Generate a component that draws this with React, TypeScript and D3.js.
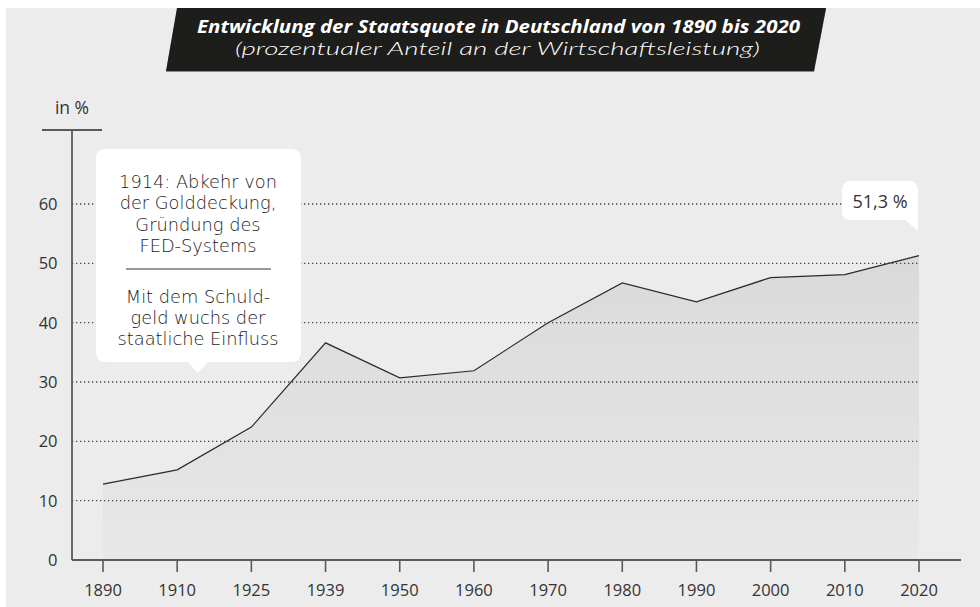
import React from "react";
import * as d3 from "d3";

const years = ["1890", "1910", "1925", "1939", "1950", "1960", "1970", "1980", "1990", "2000", "2010", "2020"];
const values = [12.8, 15.2, 22.4, 36.6, 30.7, 31.9, 40.0, 46.7, 43.5, 47.6, 48.1, 51.3];
const yTicks = [0, 10, 20, 30, 40, 50, 60];
const titleText = "Entwicklung der Staatsquote in Deutschland von 1890 bis 2020";
const subtitleText = "(prozentualer Anteil an der Wirtschaftsleistung)";
const noteTop = ["1914: Abkehr von", "der Golddeckung,", "Gründung des", "FED-Systems"];
const noteBottom = ["Mit dem Schuld-", "geld wuchs der", "staatliche Einfluss"];
const lastLabel = "51,3 %";

const FONT = "'Open Sans', Lato, sans-serif";
const NOTE_FONT = "'DejaVu Sans', 'Open Sans', sans-serif";

export default function App() {
  const x = d3.scalePoint<string>().domain(years).range([103, 919]).padding(0);
  const y = d3.scaleLinear().domain([0, 60]).range([560, 204]);
  const data = years.map((yr, i) => ({ yr, v: values[i] }));
  const line = d3.line<{ yr: string; v: number }>().x(d => x(d.yr)!).y(d => y(d.v));
  const area = d3.area<{ yr: string; v: number }>().x(d => x(d.yr)!).y0(y(0)).y1(d => y(d.v));

  // left note box
  const bx = 96, by = 149, bw = 205, bh = 213, r = 10;
  const tailX = 198;
  const boxPath =
    `M${bx + r},${by} H${bx + bw - r} Q${bx + bw},${by} ${bx + bw},${by + r} V${by + bh - r} Q${bx + bw},${by + bh} ${bx + bw - r},${by + bh}` +
    ` H${tailX + 10} L${tailX},${by + bh + 11} L${tailX - 10},${by + bh} H${bx + r} Q${bx},${by + bh} ${bx},${by + bh - r} V${by + r} Q${bx},${by} ${bx + r},${by} Z`;

  // right value label
  const lx = 842, ly = 181, lw = 76, lh = 39, lr = 9;
  const lastX = x(years[years.length - 1])!;
  const labPath =
    `M${lx + lr},${ly} H${lx + lw - lr} Q${lx + lw},${ly} ${lx + lw},${ly + lr} V${ly + lh + 11} L${lx + lw - 13},${ly + lh}` +
    ` H${lx + lr} Q${lx},${ly + lh} ${lx},${ly + lh - lr} V${ly + lr} Q${lx},${ly} ${lx + lr},${ly} Z`;

  return (
    <svg width={980} height={607} style={{ position: "absolute", left: 0, top: 0, fontFamily: FONT }}>
      <defs>
        <linearGradient id="areaGrad" gradientUnits="userSpaceOnUse" x1="0" y1="250" x2="0" y2="560">
          <stop offset="0" stopColor="#d9d9d9" />
          <stop offset="1" stopColor="#e8e8e8" />
        </linearGradient>
      </defs>
      <rect x={6} y={8} width={974} height={599} fill="#ececec" />

      {/* title banner */}
      <polygon points="166,72 814,72 826,9 177,9" fill="#8a8a8a" />
      <polygon points="177,8 826,8 814,71 166,71" fill="#1d1d1b" />
      <text x={498.5} y={33} textAnchor="middle" fill="#ffffff" fontSize={18} fontWeight={700} fontStyle="italic"
        textLength={603} lengthAdjust="spacingAndGlyphs">
        {titleText}
      </text>
      <text x={497.5} y={55} textAnchor="middle" fill="#ffffff" fontSize={18.5} fontWeight={300} fontStyle="italic"
        fontFamily="Lato, 'Open Sans', sans-serif" textLength={525} lengthAdjust="spacingAndGlyphs">
        {subtitleText}
      </text>

      {/* area */}
      <path d={area(data)!} fill="url(#areaGrad)" />

      {/* gridlines */}
      {yTicks.filter(t => t > 0).map(t => (
        <line key={t} x1={72} x2={lastX} y1={y(t)} y2={y(t)} stroke="#444" strokeWidth={1.3} strokeDasharray="1.3 2.7" />
      ))}

      {/* line */}
      <path d={line(data)!} fill="none" stroke="#2b2b2b" strokeWidth={1.2} />

      {/* y axis */}
      <line x1={72} x2={72} y1={130} y2={560} stroke="#5a5a5a" strokeWidth={1.8} />
      <line x1={42} x2={102} y1={130} y2={130} stroke="#5a5a5a" strokeWidth={1.8} />
      <text x={72} y={114} textAnchor="middle" fill="#333" fontSize={17.5}>in %</text>
      {yTicks.map(t => (
        <text key={t} x={57.5} y={y(t) + 6} textAnchor="end" fill="#333" fontSize={16.5}>{t}</text>
      ))}

      {/* x axis */}
      <line x1={72} x2={961} y1={560} y2={560} stroke="#5a5a5a" strokeWidth={1.8} />
      {years.map(yr => (
        <g key={yr}>
          <line x1={x(yr)} x2={x(yr)} y1={560} y2={572} stroke="#5a5a5a" strokeWidth={1.6} />
          <text x={x(yr)} y={596} textAnchor="middle" fill="#333" fontSize={16.5}>{yr}</text>
        </g>
      ))}

      {/* note box */}
      <path d={boxPath} fill="#ffffff" />
      <text textAnchor="middle" fill="#1a1a1a" fontSize={17.8} fontFamily={NOTE_FONT} fontWeight={300}>
        {noteTop.map((s, i) => (
          <tspan key={s} x={tailX} y={187.5 + i * 21.5}>{s}</tspan>
        ))}
      </text>
      <line x1={126} x2={271} y1={269} y2={269} stroke="#777" strokeWidth={1.5} />
      <text textAnchor="middle" fill="#1a1a1a" fontSize={17.8} fontFamily={NOTE_FONT} fontWeight={300}>
        {noteBottom.map((s, i) => (
          <tspan key={s} x={tailX} y={302.5 + i * 21.3}>{s}</tspan>
        ))}
      </text>

      {/* last value label */}
      <path d={labPath} fill="#ffffff" />
      <text x={lx + lw / 2} y={208} textAnchor="middle" fill="#333" fontSize={18}>{lastLabel}</text>
    </svg>
  );
}
